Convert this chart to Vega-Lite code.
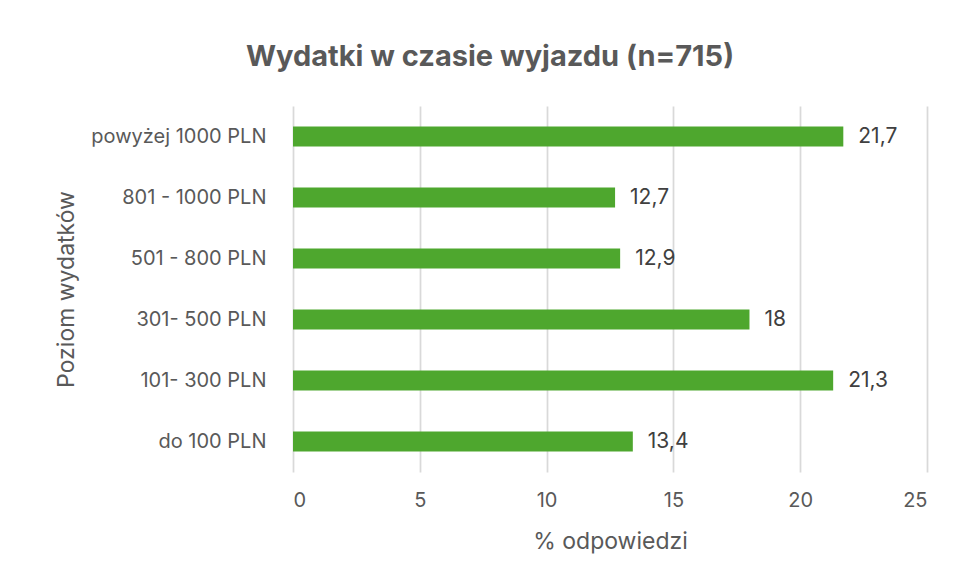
{
  "$schema": "https://vega.github.io/schema/vega-lite/v6.json",
  "width": 634,
  "height": 366,
  "autosize": {"type": "none"},
  "padding": {"left": 293, "top": 106, "right": 29, "bottom": 109},
  "background": "white",
  "config": {
    "view": {"stroke": null},
    "font": "Inter",
    "locale": {"number": {"decimal": ",", "thousands": " ", "grouping": [3], "currency": ["", " zł"]}}
  },
  "title": {
    "text": "Wydatki w czasie wyjazdu (n=715)",
    "fontSize": 29,
    "fontWeight": "bold",
    "color": "#595959",
    "anchor": "middle",
    "dx": -120,
    "offset": 34,
    "font": "Inter"
  },
  "data": {
    "values": [
      {"kategoria": "powyżej 1000 PLN", "procent": 21.7},
      {"kategoria": "801 - 1000 PLN", "procent": 12.7},
      {"kategoria": "501 - 800 PLN", "procent": 12.9},
      {"kategoria": "301- 500 PLN", "procent": 18},
      {"kategoria": "101- 300 PLN", "procent": 21.3},
      {"kategoria": "do 100 PLN", "procent": 13.4}
    ]
  },
  "encoding": {
    "y": {
      "field": "kategoria",
      "type": "nominal",
      "sort": null,
      "scale": {"paddingInner": 0.67, "paddingOuter": 0.335},
      "axis": {
        "title": "Poziom wydatków",
        "titleFontSize": 23,
        "titleFontWeight": "normal",
        "titleColor": "#595959",
        "titlePadding": 15,
        "labelFontSize": 20,
        "labelColor": "#595959",
        "labelPadding": 27,
        "ticks": false,
        "domain": false
      }
    },
    "x": {
      "field": "procent",
      "type": "quantitative",
      "scale": {"domain": [0, 25]},
      "axis": {
        "title": "% odpowiedzi",
        "values": [0, 5, 10, 15, 20, 25],
        "titleFontSize": 23,
        "titleFontWeight": "normal",
        "titleColor": "#595959",
        "titlePadding": 20,
        "labelFontSize": 20,
        "labelColor": "#595959",
        "labelPadding": 18,
        "ticks": false,
        "domain": false,
        "grid": true,
        "gridColor": "#d9d9d9",
        "gridWidth": 1.75
      }
    }
  },
  "layer": [
    {"mark": {"type": "bar", "color": "#4ea72e"}},
    {
      "mark": {"type": "text", "align": "left", "dx": 15, "fontSize": 21, "color": "#404040", "baseline": "middle"},
      "encoding": {"text": {"field": "procent", "type": "quantitative", "format": ".1~f"}}
    }
  ]
}
